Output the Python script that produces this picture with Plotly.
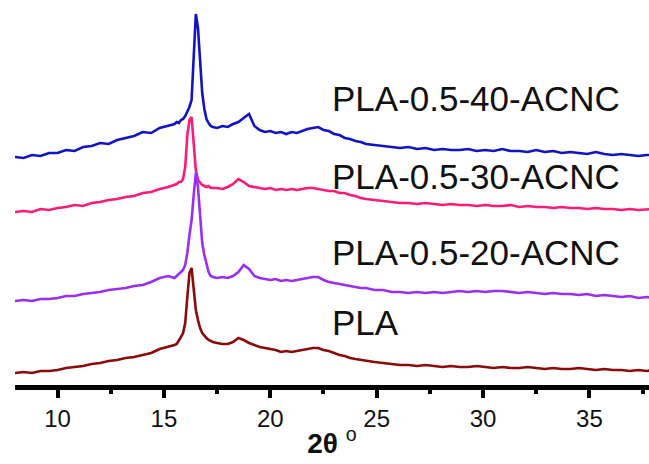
import plotly.graph_objects as go

# 2-theta grid (degrees)
two_theta = [
    8.0, 8.4, 8.8, 9.2, 9.6, 10.0, 10.4, 10.8, 11.2, 11.6, 12.0, 12.4, 12.8, 13.2, 13.6, 14.0, 14.4, 14.8, 15.2,
    15.5, 15.6, 15.7, 15.8, 15.9, 16.0, 16.1, 16.2, 16.3, 16.4, 16.5, 16.6, 16.7, 16.8, 16.9, 17.0, 17.1, 17.2, 17.3,
    17.5, 17.75, 18.0, 18.25, 18.5, 18.75, 19.0, 19.25, 19.5, 19.75, 20.0, 20.25, 20.5, 20.75, 21.0, 21.25, 21.5,
    21.75, 22.0, 22.25, 22.5, 22.75, 23.0, 23.25, 23.5, 23.75, 24.0, 24.25, 24.5,
    24.9, 25.3, 25.7, 26.1, 26.5, 26.9, 27.3, 27.7, 28.1, 28.5, 28.9, 29.3, 29.7, 30.1, 30.5, 30.9, 31.3, 31.7,
    32.1, 32.5, 32.9, 33.3, 33.7, 34.1, 34.5, 34.9, 35.3, 35.7, 36.1, 36.5, 36.9, 37.3, 37.7, 38.0,
]

# Stacked intensities (a.u., with vertical offsets as drawn)
pla_40 = [
    228, 227, 230, 229, 232, 232, 235, 234, 238, 239, 242, 241, 245, 247, 249, 253, 252, 257, 259,
    261, 263, 262, 265, 266, 269, 273, 278, 285, 337, 371, 357, 326, 292, 276, 266, 262, 259, 258,
    257, 259, 258, 261, 263, 267, 271, 259, 255, 253, 254, 252, 253, 251, 253, 252, 254,
    256, 257, 258, 255, 254, 251, 250, 247, 246, 244, 243, 241,
    240, 239, 238, 237, 238, 236, 237, 235, 236, 235, 235, 236, 234, 235, 234, 236, 234, 234,
    233, 235, 233, 234, 232, 233, 232, 231, 233, 231, 230, 231, 230, 229, 230, 230,
]
pla_30 = [
    173, 174, 173, 176, 175, 177, 178, 180, 179, 182, 183, 185, 186, 188, 189, 192, 193, 196, 198,
    200, 201, 203, 203, 206, 218, 250, 265, 268, 245, 215, 205, 202, 200, 199, 198, 199, 197, 197,
    197, 196, 198, 201, 206, 203, 199, 198, 197, 196, 197, 195, 196, 195, 196, 195, 196,
    197, 197, 196, 195, 194, 194, 192, 192, 190, 189, 187, 186,
    185, 184, 183, 182, 182, 181, 182, 181, 180, 181, 180, 180, 179, 180, 179, 179, 180, 178,
    179, 178, 178, 177, 178, 177, 177, 176, 177, 176, 176, 175, 176, 175, 176, 176,
]
pla_20 = [
    84, 85, 84, 86, 86, 87, 89, 89, 91, 92, 93, 95, 96, 97, 99, 100, 103, 107, 109,
    107, 109, 111, 113, 115, 120, 132, 150, 165, 190, 212, 198, 165, 142, 130, 120, 113, 109, 108,
    107, 108, 107, 109, 113, 120, 116, 109, 107, 106, 105, 106, 104, 105, 104, 105, 106,
    107, 108, 108, 105, 103, 102, 101, 100, 99, 98, 97, 97,
    95, 95, 93, 93, 92, 93, 92, 93, 92, 93, 94, 93, 94, 93, 94, 94, 93, 92,
    93, 92, 91, 92, 91, 91, 90, 91, 89, 90, 89, 88, 89, 87, 88, 87,
]
pla = [
    12, 13, 12, 14, 14, 15, 17, 18, 19, 21, 22, 24, 25, 27, 28, 30, 32, 36, 38,
    40, 41, 44, 48, 52, 62, 88, 112, 117, 94, 75, 65, 57, 52, 49, 47, 45, 44, 43,
    42, 41, 41, 43, 47, 45, 42, 40, 38, 37, 36, 35, 33, 34, 33, 34, 35,
    36, 37, 37, 35, 34, 32, 30, 29, 27, 26, 25, 24,
    23, 22, 21, 20, 20, 19, 20, 19, 18, 19, 18, 18, 19, 18, 17, 18, 17, 17,
    18, 17, 16, 17, 16, 16, 17, 16, 15, 16, 15, 15, 14, 15, 14, 15,
]

series_names = ["PLA-0.5-40-ACNC", "PLA-0.5-30-ACNC", "PLA-0.5-20-ACNC", "PLA"]
series_values = [pla_40, pla_30, pla_20, pla]
series_colors = ["#1212C8", "#FF1A78", "#9A2EF5", "#8C0A0A"]
label_x = [22.8, 22.8, 22.8, 22.8]
label_y = [287, 209, 133, 63]

fig = go.Figure()
for name, vals, col in zip(series_names, series_values, series_colors):
    fig.add_trace(go.Scatter(x=two_theta, y=vals, mode="lines", name=name,
                             line=dict(color=col, width=2.6), showlegend=False))

for name, lx, ly in zip(series_names, label_x, label_y):
    fig.add_annotation(x=lx, y=ly, text=name, showarrow=False, xanchor="left", yanchor="middle",
                       font=dict(family="Liberation Sans, Arial", size=35, color="#111111"))

fig.update_layout(
    width=649, height=464,
    margin=dict(l=15, r=0, t=0, b=79),
    paper_bgcolor="white", plot_bgcolor="white",
    font=dict(family="Liberation Sans, Arial", color="#111111"),
)
fig.update_xaxes(
    range=[8, 37.8], showgrid=False, zeroline=False,
    showline=True, linecolor="black", linewidth=5,
    ticks="outside", ticklen=8, tickwidth=4, tickcolor="black",
    tick0=10, dtick=5,
    minor=dict(ticks="outside", ticklen=4, tickwidth=4, tickcolor="black", dtick=2.5, tick0=10, showgrid=False),
    tickfont=dict(size=24, color="#111111"),
    title=dict(text="<b>2θ</b> <sup>o</sup>", font=dict(size=28, color="#111111"), standoff=4),
)
fig.update_yaxes(range=[0, 385], visible=False, showgrid=False, zeroline=False)

fig.write_html("out.html", config={"displayModeBar": False},
               post_script="document.body.style.margin='0';document.body.style.overflow='hidden';")
